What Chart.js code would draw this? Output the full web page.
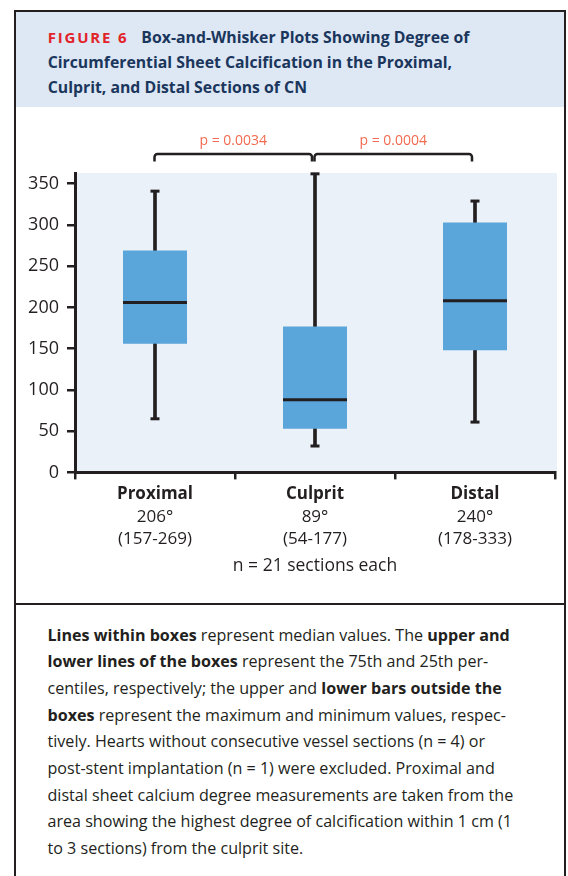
<!DOCTYPE html>
<html><head><meta charset="utf-8">
<script src="https://cdn.jsdelivr.net/npm/chart.js@4.4.0/dist/chart.umd.min.js"></script>
<style>
html,body{margin:0;padding:0;background:#fff;width:568px;height:876px;overflow:hidden;}
#frame{position:absolute;left:14px;top:10px;width:552px;height:900px;border:2px solid #231f20;box-sizing:border-box;}
#hdr{position:absolute;left:0;top:0;width:548px;height:95px;background:#dde8f4;}
#title{position:absolute;left:31.7px;top:12.5px;margin:0;font-family:"Open Sans",sans-serif;font-weight:700;font-size:15.8px;line-height:25px;color:#1b365d;white-space:nowrap;}
#title .fig{color:#e2232a;letter-spacing:1.8px;margin-right:9px;font-size:15px;}
#chartbox{position:absolute;left:0;top:96px;width:548px;height:495px;}
#divider{position:absolute;left:0;top:591px;width:548px;height:2px;background:#231f20;}
#body{position:absolute;left:31.5px;top:609.7px;font-family:"Open Sans",sans-serif;font-size:16.1px;color:#231f20;}
#body .ln{height:26.67px;line-height:26.67px;white-space:nowrap;}
#body b{font-weight:700;}
</style></head>
<body>
<div id="frame">
  <div id="hdr">
    <p id="title"><span class="fig">FIGURE 6</span> Box-and-Whisker Plots Showing Degree of<br>Circumferential Sheet Calcification in the Proximal,<br>Culprit, and Distal Sections of CN</p>
  </div>
  <div id="chartbox"><canvas id="c" width="548" height="495"></canvas></div>
  <div id="divider"></div>
  <div id="body">
    <div class="ln"><b>Lines within boxes</b> represent median values. The <b>upper and</b></div>
    <div class="ln"><b>lower lines of the boxes</b> represent the 75th and 25th per-</div>
    <div class="ln">centiles, respectively; the upper and <b>lower bars outside the</b></div>
    <div class="ln"><b>boxes</b> represent the maximum and minimum values, respec-</div>
    <div class="ln">tively. Hearts without consecutive vessel sections (n = 4) or</div>
    <div class="ln">post-stent implantation (n = 1) were excluded. Proximal and</div>
    <div class="ln">distal sheet calcium degree measurements are taken from the</div>
    <div class="ln">area showing the highest degree of calcification within 1 cm (1</div>
    <div class="ln">to 3 sections) from the culprit site.</div>
  </div>
</div>
<script>
const categories = ['Proximal', 'Culprit', 'Distal'];
const medianLabels = ['206°', '89°', '240°'];
const rangeLabels = ['(157-269)', '(54-177)', '(178-333)'];
const minValues = [65, 32, 61];
const q1Values = [156, 53, 148];
const medianValues = [206, 88, 208];
const q3Values = [269, 177, 303];
const maxValues = [341, 362, 329];
const yTicks = [0, 50, 100, 150, 200, 250, 300, 350];
const comparisons = [[0, 1], [1, 2]];
const pValues = ['p = 0.0034', 'p = 0.0004'];
const sampleNote = 'n = 21 sections each';

const DARK = '#231f20';

const plotBg = {
  id: 'plotBg',
  beforeDraw(chart) {
    const {ctx, chartArea: a} = chart;
    ctx.save();
    ctx.fillStyle = '#eaf1f9';
    ctx.fillRect(a.left, a.top, a.right - a.left + 2, a.bottom - a.top);
    ctx.restore();
  }
};

const brackets = {
  id: 'brackets',
  afterDraw(chart) {
    const {ctx, chartArea: a, scales: {x}} = chart;
    ctx.save();
    comparisons.forEach(([i, j], k) => {
      const x1 = x.getPixelForValue(i) - 0.5;
      const x2 = x.getPixelForValue(j) - 3;
      const yTop = a.top - 19, yLeg = a.top - 11.5, r = 3;
      ctx.strokeStyle = DARK;
      ctx.lineWidth = 2.5;
      ctx.beginPath();
      ctx.moveTo(x1, yLeg);
      ctx.arcTo(x1, yTop, x1 + r, yTop, r);
      ctx.arcTo(x2, yTop, x2, yTop + r, r);
      ctx.lineTo(x2, yLeg);
      ctx.stroke();
      ctx.fillStyle = '#f26a4f';
      ctx.font = '14px "Open Sans"';
      ctx.textAlign = 'center';
      ctx.textBaseline = 'middle';
      ctx.fillText(pValues[k], (x1 + x2) / 2, yTop - 13);
    });
    ctx.restore();
  }
};

const pointLine = (label, data, radius) => ({
  type: 'line', label, data, showLine: false, pointStyle: 'line',
  pointRadius: radius, pointHoverRadius: radius, borderColor: DARK,
  pointBorderColor: DARK, pointBorderWidth: 3, clip: false, order: 0, xAxisID: 'x', yAxisID: 'y'
});

new Chart(document.getElementById('c'), {
  type: 'bar',
  data: {
    labels: categories,
    datasets: [
      pointLine('median', medianValues, 32),
      pointLine('max', maxValues, 4.5),
      pointLine('min', minValues, 4.5),
      {
        type: 'bar', label: 'IQR', data: categories.map((c, i) => [q1Values[i], q3Values[i]]),
        backgroundColor: '#5aa5da', borderWidth: 0, barPercentage: 0.4, categoryPercentage: 1,
        grouped: false, order: 1, xAxisID: 'x', yAxisID: 'y'
      },
      {
        type: 'bar', label: 'range', data: categories.map((c, i) => [minValues[i], maxValues[i]]),
        backgroundColor: DARK, borderWidth: 0, barThickness: 3,
        grouped: false, order: 2, xAxisID: 'x', yAxisID: 'y', clip: false
      }
    ]
  },
  options: {
    responsive: false,
    devicePixelRatio: 1,
    animation: false,
    events: [],
    layout: {autoPadding: false, padding: {top: 65, left: 0, right: 9, bottom: 26}},
    plugins: {legend: {display: false}, tooltip: {enabled: false}},
    scales: {
      x: {
        type: 'category', position: 'bottom', weight: 0, offset: true,
        grid: {display: true, drawOnChartArea: false, drawTicks: true, tickLength: 7, color: DARK, lineWidth: 2.5, offset: true},
        border: {display: true, color: DARK, width: 3},
        ticks: {color: DARK, font: {family: 'Open Sans', size: 17, weight: 'bold', lineHeight: 1.2}, padding: 5, maxRotation: 0, autoSkip: false}
      },
      x2: {
        type: 'category', position: 'bottom', weight: 1, offset: true,
        labels: categories.map((c, i) => [medianLabels[i], rangeLabels[i]]),
        grid: {display: false, drawTicks: false},
        border: {display: false},
        ticks: {color: DARK, font: {family: 'Open Sans', size: 17, lineHeight: 1.3}, padding: -3.5, maxRotation: 0, autoSkip: false},
        title: {display: true, text: sampleNote, color: DARK, font: {family: 'Open Sans', size: 17.5, lineHeight: 1.2}, padding: {top: 9, bottom: 0}}
      },
      y: {
        type: 'linear', position: 'left', min: 0, max: 363,
        afterFit(s) { s.width = 59; },
        afterBuildTicks(s) { s.ticks = yTicks.map(v => ({value: v})); },
        grid: {drawOnChartArea: false, tickLength: 8, color: DARK, lineWidth: 2.5},
        border: {display: true, color: DARK, width: 3},
        ticks: {color: DARK, font: {family: 'Open Sans', size: 18}, padding: 8}
      }
    }
  },
  plugins: [plotBg, brackets]
});
</script>
</body></html>
